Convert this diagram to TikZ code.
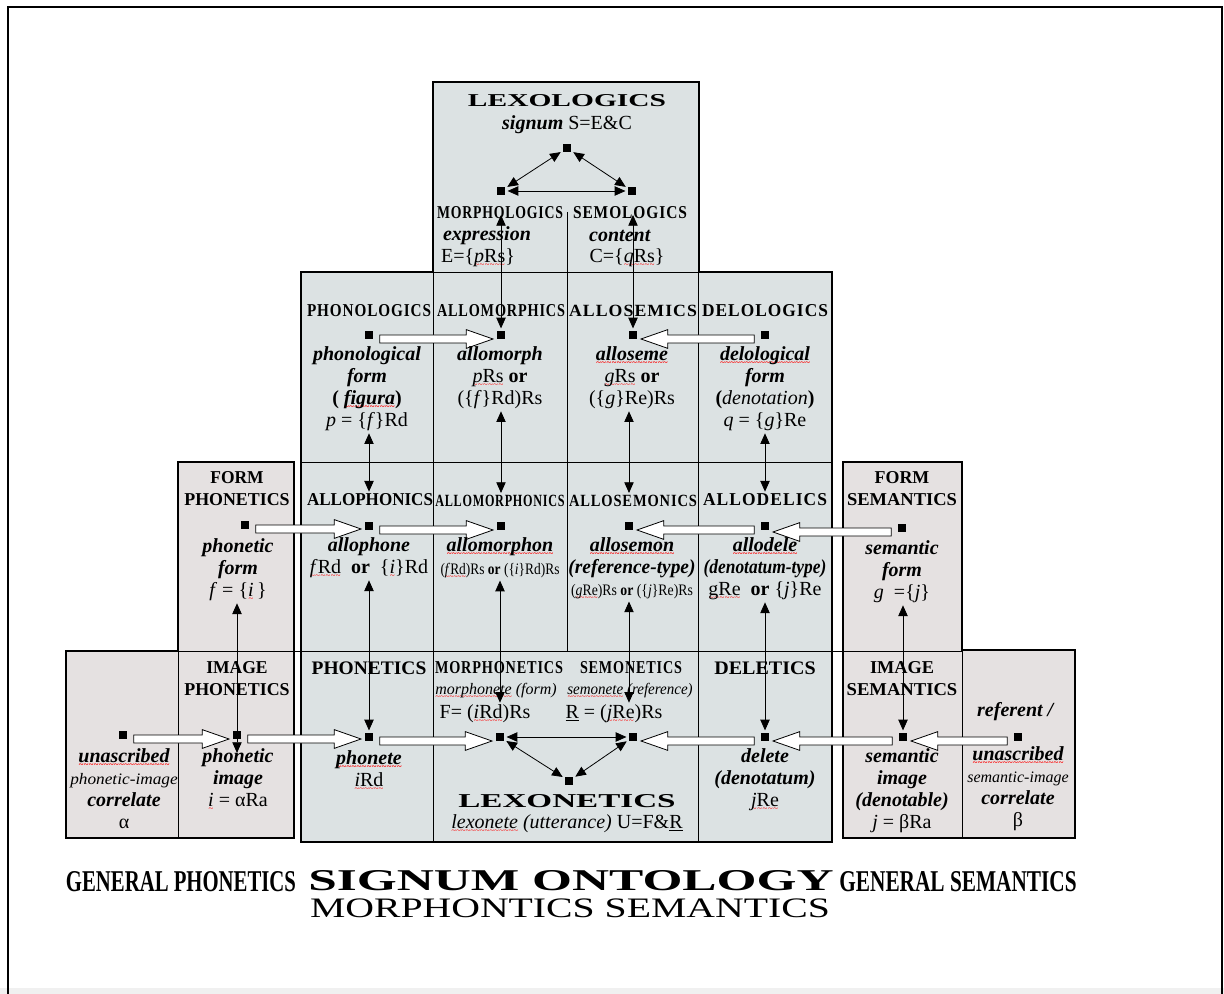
\documentclass[tikz,border=0pt]{standalone}
\usepackage{fontspec}
\setmainfont{Liberation Serif}
\newfontfamily\spacedfont[LetterSpace=6]{Liberation Serif}
\usepackage{graphicx}
\usetikzlibrary{positioning, calc, arrows.meta}
\definecolor{cellblue}{RGB}{220,226,227}
\definecolor{cellrose}{RGB}{229,225,225}
\definecolor{stripgrey}{RGB}{240,240,240}
\newsavebox{\wvbox}
\newcommand{\wv}[1]{\sbox{\wvbox}{#1}\rlap{\textcolor{red}{\raisebox{-3.6pt}[0pt][0pt]{\hbox to \wd\wvbox{\xleaders\hbox{\fontsize{6.5}{6.5}\selectfont\char126}\hfill}}}}\usebox{\wvbox}}
\newcommand{\hbx}[3]{\resizebox{#1pt}{#2pt}{#3}}
\newcommand{\bi}[1]{\textbf{\textit{#1}}}
\pgfdeclarelayer{bg}
\pgfdeclarelayer{arr}
\pgfsetlayers{bg,arr,main}
\tikzset{
  sqdot/.style={fill=black, inner sep=0pt, minimum size=6.5pt},
  dlink/.style={{Triangle[length=8pt,width=7pt]}-{Triangle[length=8pt,width=7pt]}, line width=0.6pt, shorten <=1.5pt, shorten >=1.5pt},
  blockarrow/.style={draw=black, fill=white, line width=0.6pt},
  txt/.style={inner sep=0pt, align=center, font=\fontsize{15}{16.5}\selectfont},
  smalltxt/.style={inner sep=0pt, align=center, font=\fontsize{12}{14}\selectfont},
  hdb/.style={txt, font=\fontsize{14.5}{16.5}\selectfont\bfseries},
  hds/.style={txt, font=\spacedfont\bfseries},
  thickline/.style={line width=1.5pt},
  gridline/.style={line width=0.6pt}
}
% hollow block arrow between two dots (horizontal)
\newcommand{\fatarrow}[2]{%
  \path[blockarrow] let \p1=(#1), \p2=(#2), \n1={sign(\x2-\x1)} in
    (\x1+\n1*8, \y1) -- (\x2-\n1*26, \y1) -- (\x2-\n1*26, \y1+4) -- (\x2-\n1*6, \y1-3)
    -- (\x2-\n1*26, \y1-10) -- (\x2-\n1*26, \y1-6) -- (\x1+\n1*8, \y1-6) -- cycle;}

\begin{document}
\begin{tikzpicture}[x=0.75pt, y=-0.75pt]
  \useasboundingbox (0,0) rectangle (1224,994);

  \begin{pgfonlayer}{bg}
    \fill[stripgrey] (0,988) rectangle (1224,994);
    \draw[line width=0.8pt] (8,994) -- (8,7) -- (1222,7) -- (1222,994);
    \fill[cellblue] (433,82) rectangle (699,272);
    \fill[cellblue] (301,272) rectangle (832,842);
    \fill[cellrose] (178,462) -- (294,462) -- (294,838) -- (66,838) -- (66,651) -- (178,651) -- cycle;
    \fill[cellrose] (843,462) -- (962,462) -- (962,650) -- (1075,650) -- (1075,838) -- (843,838) -- cycle;
    % cell lines
    \draw[gridline] (433,272) -- (699,272) (301,462) -- (832,462) (178,651) -- (962,651);
    \draw[gridline] (433,272) -- (433,842) (698,272) -- (698,842) (567,212) -- (567,651);
    \draw[gridline] (178,651) -- (178,838) (962,650) -- (962,838);
    % outlines
    \draw[thickline] (433,272) -- (433,82) -- (699,82) -- (699,272);
    \draw[thickline] (433,272) -- (301,272) -- (301,842) -- (832,842) -- (832,272) -- (698,272);
    \draw[thickline] (178,462) -- (294,462) -- (294,838) -- (66,838) -- (66,651) -- (178,651) -- cycle;
    \draw[thickline] (843,462) -- (962,462) -- (962,650) -- (1075,650) -- (1075,838) -- (843,838) -- cycle;
  \end{pgfonlayer}

  % lexologics
  \node[hdb] (lexoHd) at (567,101) {\hbx{148.5}{9}{LEXOLOGICS}};
  \node[txt] (signum) at (567,125) {\bi{signum} S=E\&C};
  \node[sqdot] (sS) at (567,148) {};
  \node[sqdot] (sE) at (501,191) {};
  \node[sqdot] (sC) at (632,191) {};
  \node[hds] (mphlg) at (500,213) {\hbx{94.5}{9}{MORPHOLOGICS}};
  \node[hds] (smlg) at (630,213) {\hbx{85.5}{9}{SEMOLOGICS}};
  \node[txt] (expr) at (487,236) {\bi{expression}};
  \node[txt] (cont) at (620,236) {\bi{content}};
  \node[txt] (eTxt) at (478,258) {E=\{\wv{\textit{p}Rs}\}};
  \node[txt] (cTxt) at (627,258) {C=\{\wv{\textit{q}Rs}\}};

  % logics row
  \node[hds] (phlHd) at (369,311) {\hbx{93}{9}{PHONOLOGICS}};
  \node[hds] (amHd) at (501,311) {\hbx{96}{9}{ALLOMORPHICS}};
  \node[hds] (asHd) at (633,311) {\hbx{96}{8.5}{ALLOSEMICS}};
  \node[hds] (dlHd) at (765,311) {\hbx{94.5}{9}{DELOLOGICS}};
  \node[sqdot] (sPhl) at (369,335) {};
  \node[sqdot] (sAmor) at (501,335) {};
  \node[sqdot] (sAsem) at (633,335) {};
  \node[sqdot] (sDlg) at (765,335) {};
  \node[txt] (phTxt) at (367,389) {\bi{phonological}\\\bi{form}\\\textbf{(} \bi{\wv{figura}}\textbf{)}\\\textit{p} = \{\textit{f}\}Rd};
  \node[txt] (amTxt) at (500,378) {\bi{allomorph}\\\wv{\textit{p}Rs} \textbf{or}\\(\{\textit{f}\}Rd)Rs};
  \node[txt] (asTxt) at (632,378) {\bi{\wv{alloseme}}\\\wv{\textit{g}Rs} \textbf{or}\\(\{\textit{g}\}Re)Rs};
  \node[txt] (dlTxt) at (765,389) {\bi{\wv{delological}}\\\bi{form}\\\textbf{(}\textit{denotation}\textbf{)}\\\textit{q} = \{\textit{g}\}Re};

  % onics row
  \node[hdb] (fphHd) at (237,489) {\hbx{40}{9}{FORM}\\\hbx{79}{9}{PHONETICS}};
  \node[hdb] (aphHd) at (370,500) {\hbx{94.5}{9}{ALLOPHONICS}};
  \node[hds] (ampHd) at (500,501) {\hbx{97}{8.5}{ALLOMORPHONICS}};
  \node[hds] (asmHd) at (633,501) {\hbx{96}{8.5}{ALLOSEMONICS}};
  \node[hds] (adlHd) at (765,500) {\hbx{93}{9}{ALLODELICS}};
  \node[hdb] (fsmHd) at (902,489) {\hbx{41}{9}{FORM}\\\hbx{82.5}{9}{SEMANTICS}};
  \node[sqdot] (sFph) at (245,525) {};
  \node[sqdot] (sAph) at (369,526) {};
  \node[sqdot] (sAmp) at (501,526) {};
  \node[sqdot] (sAsm) at (629,526) {};
  \node[sqdot] (sAdl) at (765,526) {};
  \node[sqdot] (sFsm) at (902,528) {};
  \node[txt] (fphTxt) at (238,570) {\bi{phonetic}\\\bi{form}\\\textit{f} = \{\wv{\textit{i}}\,\}};
  \node[txt] (aphTxt) at (369,558) {\bi{allophone}\\\wv{\textit{f}Rd}\ \ \textbf{or}\ \ \{\wv{\textit{i}}\}Rd};
  \node[txt] (ampTxt) at (500,547) {\bi{\wv{allomorphon}}};
  \node[smalltxt] (ampForm) at (500,571) {\scalebox{0.84}[1]{(\wv{\textit{f}Rd})Rs \textbf{or} (\{\wv{\textit{i}}\}Rd)Rs}};
  \node[txt] (asmTxt) at (632,558) {\bi{\wv{allosemon}}\\\scalebox{0.97}[1]{\bi{(reference-type)}}};
  \node[smalltxt] (asmForm) at (632,592) {\scalebox{0.86}[1]{(\wv{\textit{g}Re})Rs \textbf{or} (\{\textit{j}\}Re)Rs}};
  \node[txt] (adlTxt) at (765,569) {\bi{\wv{allodele}}\\\scalebox{0.87}[1]{\bi{(denotatum-type)}}\\\wv{gRe}\ \ \textbf{or} \{\textit{j}\}Re};
  \node[txt] (fsmTxt) at (902,572) {\bi{semantic}\\\bi{form}\\\textit{g}\ \ =\{\textit{j}\}};

  % etics row
  \node[hdb] (imPhHd) at (237,679) {\hbx{46}{9}{IMAGE}\\\hbx{79}{9}{PHONETICS}};
  \node[hdb] (phnHd) at (369,668) {\hbx{86}{9.5}{PHONETICS}};
  \node[hds] (mphnHd) at (499,668) {\hbx{96}{9}{MORPHONETICS}};
  \node[hds] (smnHd) at (631,668) {\hbx{76.5}{9}{SEMONETICS}};
  \node[hdb] (delHd) at (765,668) {\hbx{76}{9.5}{DELETICS}};
  \node[hdb] (imSmHd) at (902,679) {\hbx{48}{9}{IMAGE}\\\hbx{83}{9}{SEMANTICS}};
  \node[smalltxt] (mphnTxt) at (496,691) {\itshape\wv{morphonete} (form)};
  \node[smalltxt] (smnTxt) at (630,691) {\itshape\scalebox{0.94}[1]{\wv{semonete} (reference)}};
  \node[txt] (fTxt) at (485,714) {F= (\wv{\textit{i}Rd})Rs};
  \node[txt] (rTxt) at (614,714) {\underline{R} = (\wv{\textit{j}Re})Rs};
  \node[sqdot] (sUnP) at (123,735) {};
  \node[sqdot] (sImP) at (237,735) {};
  \node[sqdot] (sPhn) at (369,737) {};
  \node[sqdot] (sMph) at (500,737) {};
  \node[sqdot] (sSmn) at (633,737) {};
  \node[sqdot] (sDel) at (765,737) {};
  \node[sqdot] (sImS) at (903,737) {};
  \node[sqdot] (sRef) at (1018,737) {};
  \node[sqdot] (sLxn) at (569,781) {};
  \node[hdb] (lexnHd) at (567,801) {\hbx{163}{9.75}{LEXONETICS}};
  \node[txt] (lexnTxt) at (567,824) {\textit{\wv{lexonete} (utterance)} U=F\&\underline{R}};
  \node[txt] (unPTxt) at (124,789) {\bi{\wv{unascribed}}\\{\fontsize{12}{16.5}\selectfont\itshape\scalebox{1.08}[1]{phonetic-image}}\\\bi{correlate}\\α};
  \node[txt] (phImTxt) at (238,778) {\bi{phonetic}\\\bi{image}\\\wv{\textit{i}} = αRa};
  \node[txt] (phnTxt) at (369,769) {\bi{\wv{phonete}}\\\wv{\textit{i}Rd}};
  \node[txt] (delTxt) at (765,780) {\bi{delete}\\\bi{(denotatum)}\\\wv{\textit{j}Re}};
  \node[txt] (smImTxt) at (902,791) {\bi{semantic}\\\bi{image}\\\bi{(denotable)}\\\textit{j} = βRa};
  \node[txt] (refTxt) at (1016,712) {\bi{referent /}};
  \node[txt] (unSTxt) at (1018,789) {\bi{\wv{unascribed}}\\{\fontsize{12}{16.5}\selectfont\itshape semantic-image}\\\bi{correlate}\\β};

  % captions
  \node[hdb] (genPh) at (181,882) {\hbx{172.5}{15}{GENERAL PHONETICS}};
  \node[hdb] (onto) at (571,881) {\hbx{394}{15}{SIGNUM ONTOLOGY}};
  \node[hdb] (genSm) at (958,882) {\hbx{178}{15}{GENERAL SEMANTICS}};
  \node[txt] (morphSem) at (570,908) {\hbx{390}{14}{MORPHONTICS SEMANTICS}};

  % block arrows
  \begin{pgfonlayer}{arr}
    \fatarrow{sPhl}{sAmor}
    \fatarrow{sDlg}{sAsem}
    \fatarrow{sFph}{sAph}
    \fatarrow{sAph}{sAmp}
    \fatarrow{sFsm}{sAdl}
    \fatarrow{sAdl}{sAsm}
    \fatarrow{sUnP}{sImP}
    \fatarrow{sImP}{sPhn}
    \fatarrow{sPhn}{sMph}
    \fatarrow{sDel}{sSmn}
    \fatarrow{sImS}{sDel}
    \fatarrow{sRef}{sImS}
  \end{pgfonlayer}

  % triangles
  \draw[dlink] (sS) -- (sE);
  \draw[dlink] (sS) -- (sC);
  \draw[dlink] (sE) -- (sC);
  \draw[dlink] (sMph) -- (sSmn);
  \draw[dlink] (sMph) -- (sLxn);
  \draw[dlink] (sSmn) -- (sLxn);

  % vertical links
  \draw[dlink] (sAmor) -- (sAmor |- mphlg);
  \draw[dlink] (sAsem) -- (sAsem |- smlg);
  \draw[dlink] (sPhl |- phTxt.south) -- (sAph |- aphHd.north);
  \draw[dlink] (sAmor |- amTxt.south) -- (sAmp |- ampHd.north);
  \draw[dlink] (sAsm |- asTxt.south) -- (sAsm |- asmHd.north);
  \draw[dlink] (sAdl |- dlTxt.south) -- (sAdl |- adlHd.north);
  \draw[dlink, shorten >=-10pt] (sImP |- fphTxt.south) -- (sImP.south);
  \draw[dlink] (sPhn |- aphTxt.south) -- (sPhn);
  \draw[dlink] (sMph |- ampForm.south) -- (sMph |- fTxt.north);
  \draw[dlink] (sAsm |- asmForm.south) -- (sAsm |- rTxt.north);
  \draw[dlink] (sDel |- adlTxt.south) -- (sDel);
  \draw[dlink] (sImS |- fsmTxt.south) -- (sImS);
\end{tikzpicture}
\end{document}
